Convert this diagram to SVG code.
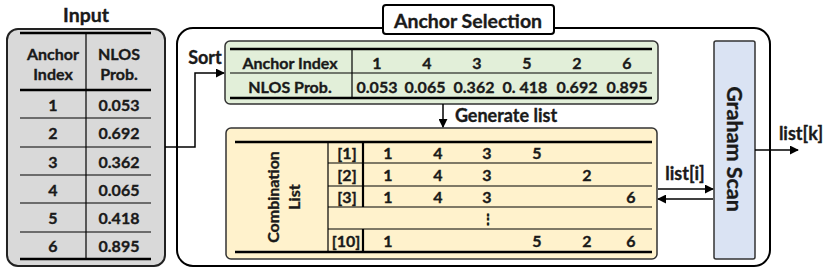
<svg xmlns="http://www.w3.org/2000/svg" width="831" height="271" viewBox="0 0 831 271">
<defs>
<marker id="ah" viewBox="0 0 10 10" refX="9" refY="5" markerWidth="9" markerHeight="9" markerUnits="userSpaceOnUse" orient="auto"><path d="M0,0 L10,5 L0,10 z" fill="#000"/></marker>
<style>
text{font-family:Lato,"Liberation Sans",sans-serif;font-weight:bold;fill:#1a1a1a;stroke:#1a1a1a;stroke-width:0.35;text-anchor:middle;dominant-baseline:central}
.t{font-size:16px}
.h{font-size:19.5px}
.l{font-size:18px}
.thick{stroke:#000;stroke-width:2.5;fill:none}
.thin{stroke:#000;stroke-width:1.2;fill:none}
.conn{stroke:#000;stroke-width:1.5;fill:none}
</style>
</defs>
<rect width="831" height="271" fill="#fff"/>

<g id="input">
<text x="86" y="14" class="h">Input</text>
<rect x="7" y="29" width="158" height="237" rx="11" fill="#d9d9d9" stroke="#222" stroke-width="2"/>
<line x1="20" y1="33" x2="151" y2="33" class="thick"/>
<line x1="20" y1="90" x2="151" y2="90" class="thick"/>
<line x1="20" y1="259" x2="151" y2="259" class="thick"/>
<line x1="86" y1="33" x2="86" y2="259" class="thin"/>
<g class="thin"><line x1="20" y1="118" x2="151" y2="118"/><line x1="20" y1="147" x2="151" y2="147"/><line x1="20" y1="175" x2="151" y2="175"/><line x1="20" y1="203" x2="151" y2="203"/><line x1="20" y1="232" x2="151" y2="232"/></g>
<text x="53" y="53" class="t">Anchor</text><text x="53" y="73" class="t">Index</text>
<text x="119" y="53" class="t">NLOS</text><text x="119" y="73" class="t">Prob.</text>
<text x="53" y="104" class="t">1</text><text x="119" y="104" class="t">0.053</text>
<text x="53" y="132.5" class="t">2</text><text x="119" y="132.5" class="t">0.692</text>
<text x="53" y="161" class="t">3</text><text x="119" y="161" class="t">0.362</text>
<text x="53" y="189" class="t">4</text><text x="119" y="189" class="t">0.065</text>
<text x="53" y="217.5" class="t">5</text><text x="119" y="217.5" class="t">0.418</text>
<text x="53" y="245.5" class="t">6</text><text x="119" y="245.5" class="t">0.895</text>
</g>

<g id="anchor-selection">
<rect x="177" y="28" width="593" height="238" rx="16" fill="#fff" stroke="#000" stroke-width="2"/>
<rect x="383" y="5" width="171" height="29" rx="3" fill="#fff" stroke="#000" stroke-width="2"/>
<text x="468" y="20" class="h">Anchor Selection</text>
</g>

<g id="sort-table">
<rect x="225" y="41" width="433" height="63" rx="5" fill="#e2efd9" stroke="#333" stroke-width="1.5"/>
<line x1="230" y1="49" x2="652" y2="49" class="thick"/>
<line x1="230" y1="73" x2="652" y2="73" class="thin"/>
<line x1="230" y1="98" x2="652" y2="98" class="thick"/>
<line x1="352" y1="49" x2="352" y2="98" class="thin"/>
<text x="290" y="62" class="t">Anchor Index</text>
<text x="290" y="86" class="t">NLOS Prob.</text>
<text x="377" y="62" class="t">1</text><text x="427" y="62" class="t">4</text><text x="477" y="62" class="t">3</text><text x="527" y="62" class="t">5</text><text x="577" y="62" class="t">2</text><text x="627" y="62" class="t">6</text>
<text x="377" y="86" class="t">0.053</text><text x="425" y="86" class="t">0.065</text><text x="474" y="86" class="t">0.362</text><text x="525" y="86" class="t">0. 418</text><text x="577" y="86" class="t">0.692</text><text x="627" y="86" class="t">0.895</text>
</g>

<g id="combination-list">
<rect x="226" y="128" width="431" height="131" rx="5" fill="#fff2cc" stroke="#333" stroke-width="1.5"/>
<line x1="235" y1="142" x2="652" y2="142" class="thick"/>
<line x1="235" y1="252" x2="652" y2="252" class="thick"/>
<g class="thin"><line x1="328" y1="163" x2="652" y2="163"/><line x1="328" y1="186" x2="652" y2="186"/><line x1="328" y1="207" x2="652" y2="207"/><line x1="328" y1="229" x2="652" y2="229"/></g>
<line x1="328" y1="142" x2="328" y2="252" class="thin"/>
<line x1="363" y1="142" x2="363" y2="207" stroke="#000" stroke-width="2.2"/>
<line x1="363" y1="229" x2="363" y2="252" stroke="#000" stroke-width="2.2"/>
<text transform="translate(272,197) rotate(-90)" class="t">Combination</text>
<text transform="translate(293,197) rotate(-90)" class="t">List</text>
<text x="347" y="152.5" class="t">[1]</text><text x="347" y="174.5" class="t">[2]</text><text x="347" y="196.5" class="t">[3]</text><text x="346" y="240.5" class="t">[10]</text>
<text x="388" y="152.5" class="t">1</text><text x="438" y="152.5" class="t">4</text><text x="487" y="152.5" class="t">3</text><text x="537" y="152.5" class="t">5</text>
<text x="388" y="174.5" class="t">1</text><text x="438" y="174.5" class="t">4</text><text x="487" y="174.5" class="t">3</text><text x="587" y="174.5" class="t">2</text>
<text x="388" y="196.5" class="t">1</text><text x="438" y="196.5" class="t">4</text><text x="487" y="196.5" class="t">3</text><text x="631" y="196.5" class="t">6</text>
<text x="488" y="218" class="t" style="font-size:12px">⋮</text>
<text x="388" y="240.5" class="t">1</text><text x="537" y="240.5" class="t">5</text><text x="587" y="240.5" class="t">2</text><text x="631" y="240.5" class="t">6</text>
</g>

<g id="graham-scan">
<rect x="714" y="41" width="41" height="218" rx="2" fill="#dae3f3" stroke="#333" stroke-width="1.5"/>
<text transform="translate(734.5,149) rotate(90)" style="font-size:21.5px">Graham Scan</text>
</g>

<g id="connectors">
<polyline points="165,147 195,147 195,73 224,73" class="conn" marker-end="url(#ah)"/>
<text x="205" y="57" class="l">Sort</text>
<line x1="443" y1="104" x2="443" y2="127" class="conn" marker-end="url(#ah)"/>
<text x="506" y="115" class="l">Generate list</text>
<line x1="658" y1="189" x2="713" y2="189" class="conn" marker-end="url(#ah)"/>
<line x1="713" y1="199" x2="658" y2="199" class="conn" marker-end="url(#ah)"/>
<text x="685" y="173" class="l">list[i]</text>
<line x1="755" y1="150" x2="798" y2="150" class="conn" marker-end="url(#ah)"/>
<text x="801" y="133" class="l">list[k]</text>
</g>
</svg>
